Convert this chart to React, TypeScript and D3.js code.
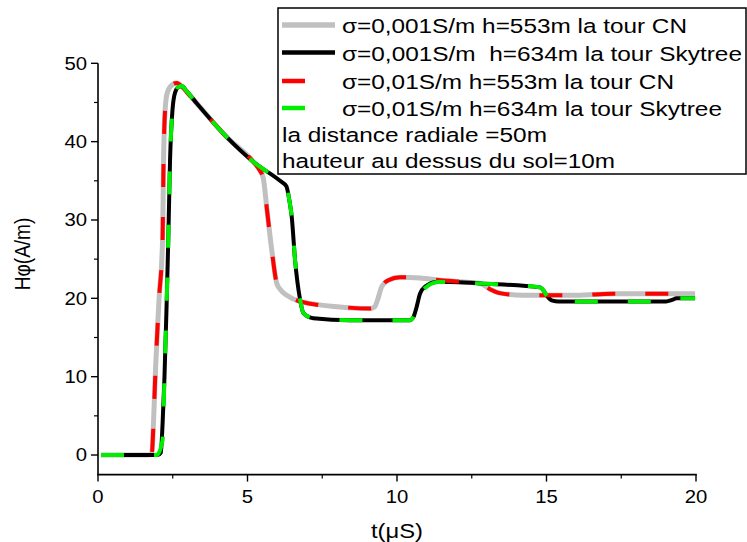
import React from 'react';
import * as d3 from 'd3';

const W = 747;
const H = 542;

// Axis ticks
const xMajorTicks = [0, 5, 10, 15, 20];
const xMinorTicks = [2.5, 7.5, 12.5, 17.5];
const yMajorTicks = [0, 10, 20, 30, 40, 50];
const yMinorTicks = [5, 15, 25, 35, 45];

// Series: [t (µs), Hφ (A/m)]
const grayCN: [number, number][] = [
  [0.1, 0], [1.7, 0], [1.8, 0.2], [1.86, 4.5], [1.91, 9.6], [2.04, 19.8], [2.16, 27.4],
  [2.19, 37], [2.23, 43], [2.3, 46], [2.41, 47.0], [2.63, 47.5], [2.84, 46.9], [3.0, 46.2],
  [3.3, 44.9], [4.3, 40.6], [5.2, 37.4], [5.4, 36.4], [5.53, 35.3], [5.64, 31.7], [5.81, 26.2],
  [5.98, 21.9], [6.15, 20.9], [6.31, 20.4], [6.76, 19.6], [8.09, 18.9], [9.1, 18.7], [9.25, 18.9],
  [9.35, 19.8], [9.49, 21.5], [9.71, 22.3], [10.1, 22.7], [10.77, 22.6], [11.44, 22.3],
  [12.78, 21.9], [13.1, 21.2], [13.4, 20.7], [14.22, 20.4], [16.0, 20.4], [17.2, 20.6], [19.97, 20.6],
];

const blackSkytree: [number, number][] = [
  [0.1, 0], [2.0, 0], [2.1, 0.3], [2.16, 4], [2.22, 9.6], [2.29, 18.5], [2.35, 27.4],
  [2.41, 37.7], [2.49, 44], [2.58, 46.3], [2.7, 47.0], [2.8, 47.1], [2.95, 46.5], [3.3, 44.9],
  [4.3, 40.6], [5.2, 37.4], [6.09, 35], [6.3, 34.3], [6.4, 32.5], [6.48, 30.4], [6.59, 24.9],
  [6.76, 19.8], [6.87, 18.1], [7.2, 17.45], [8.43, 17.2], [10.43, 17.2], [10.55, 17.6],
  [10.65, 18.8], [10.77, 20.6], [10.94, 21.5], [11.33, 22.1], [11.77, 22.1], [12.78, 21.9],
  [14.78, 21.4], [14.9, 21.0], [15.0, 20.4], [15.2, 19.7], [15.4, 19.6], [16.1, 19.6],
  [19.0, 19.6], [19.2, 19.8], [19.35, 20.0], [19.97, 20.0],
];

const redCN: [number, number][] = [
  [0.1, 0], [1.7, 0], [1.8, 0.2], [1.86, 4.5], [1.91, 9.6], [2.04, 19.8], [2.16, 27.4],
  [2.19, 37], [2.23, 43], [2.3, 46], [2.41, 47.0], [2.63, 47.5], [2.84, 46.9], [3.0, 46.2],
  [3.3, 44.9], [4.3, 40.6], [5.2, 37.4], [5.4, 36.4], [5.53, 35.3], [5.64, 31.7], [5.81, 26.2],
  [5.98, 21.9], [6.15, 20.9], [6.31, 20.4], [6.76, 19.6], [8.09, 18.9], [9.1, 18.7], [9.25, 18.9],
  [9.35, 19.8], [9.49, 21.5], [9.71, 22.3], [10.1, 22.7], [10.77, 22.6], [11.44, 22.3],
  [12.78, 21.9], [13.1, 21.2], [13.4, 20.7], [14.22, 20.4], [16.0, 20.4], [17.2, 20.6], [19.97, 20.6],
];

const greenSkytree: [number, number][] = [
  [0.1, 0], [1.97, 0], [2.16, 1.9], [2.22, 9.6], [2.29, 18.5], [2.35, 27.4],
  [2.41, 37.7], [2.49, 44], [2.58, 46.3], [2.7, 47.0], [2.8, 47.1], [2.95, 46.5], [3.3, 44.9],
  [4.3, 40.6], [5.2, 37.4], [6.09, 35], [6.3, 34.3], [6.4, 32.5], [6.48, 30.4], [6.59, 24.9],
  [6.76, 19.8], [6.87, 18.1], [7.2, 17.45], [8.43, 17.2], [10.43, 17.2], [10.55, 17.6],
  [10.65, 18.8], [10.77, 20.6], [11.38, 22.1], [11.77, 22.1], [12.78, 21.9],
  [14.78, 21.4], [14.9, 21.0], [15.0, 20.4], [15.2, 19.7], [15.4, 19.6], [16.1, 19.6],
  [19.0, 19.6], [19.2, 19.8], [19.35, 20.0], [19.97, 20.0],
];

const legendLabels = [
  'σ=0,001S/m h=553m la tour CN',
  'σ=0,001S/m  h=634m la tour Skytree',
  'σ=0,01S/m h=553m la tour CN',
  'σ=0,01S/m h=634m la tour Skytree',
];
const noteLabels = ['la distance radiale =50m', 'hauteur au dessus du sol=10m'];

const FONT = '"Liberation Sans", Arial, sans-serif';
const SX = 1.16;

const x = d3.scaleLinear().domain([0, 20]).range([98, 696]);
const y = d3.scaleLinear().domain([-2.5, 50]).range([474.6, 63.3]);

const line = d3
  .line<[number, number]>()
  .x((d) => x(d[0]))
  .y((d) => y(d[1]))
  .curve(d3.curveMonotoneX);

const series = [
  { data: grayCN, color: '#c0c0c0', width: 5, dash: undefined as string | undefined, sample: 53 },
  { data: blackSkytree, color: '#000000', width: 4, dash: undefined as string | undefined, sample: 53 },
  { data: redCN, color: '#ff0000', width: 4, dash: '23 30', sample: 23 },
  { data: greenSkytree, color: '#00ee00', width: 4, dash: '23 30', sample: 23 },
];

const legendLens = [345, 400, 332, 380];
const noteLens = [265, 333];

export default function App() {
  const x0 = x.range()[0];
  const yBottom = y(-2.5);
  const yTop = y(50);
  return (
    <svg
      width={W}
      height={H}
      style={{ position: 'absolute', left: 0, top: 0, background: '#fff' }}
      fontFamily={FONT}
    >
      <rect x={0} y={0} width={W} height={H} fill="#fff" />
      {/* curves */}
      {series.map((s, i) => (
        <path
          key={i}
          d={line(s.data) || ''}
          fill="none"
          stroke={s.color}
          strokeWidth={s.width}
          strokeDasharray={s.dash}
          strokeLinejoin="round"
        />
      ))}

      {/* axes */}
      <line x1={x0} x2={x0} y1={yTop} y2={yBottom} stroke="#000" strokeWidth={1.6} />
      <line x1={x0 - 0.8} x2={x(20) + 0.8} y1={yBottom} y2={yBottom} stroke="#000" strokeWidth={1.6} />
      {yMajorTicks.map((t) => (
        <g key={'ym' + t}>
          <line x1={x0 - 7} x2={x0} y1={y(t)} y2={y(t)} stroke="#000" strokeWidth={1.4} />
          <text
            transform={`translate(${x0 - 11},${y(t) + 6.3}) scale(${SX},1)`}
            textAnchor="end"
            fontSize={17.5}
            fill="#000"
          >
            {t}
          </text>
        </g>
      ))}
      {yMinorTicks.map((t) => (
        <line key={'yn' + t} x1={x0 - 4} x2={x0} y1={y(t)} y2={y(t)} stroke="#000" strokeWidth={1.2} />
      ))}
      {xMajorTicks.map((t) => (
        <g key={'xm' + t}>
          <line x1={x(t)} x2={x(t)} y1={yBottom} y2={yBottom + 7} stroke="#000" strokeWidth={1.4} />
          <text
            transform={`translate(${x(t)},503) scale(${SX},1)`}
            textAnchor="middle"
            fontSize={17.5}
            fill="#000"
          >
            {t}
          </text>
        </g>
      ))}
      {xMinorTicks.map((t) => (
        <line key={'xn' + t} x1={x(t)} x2={x(t)} y1={yBottom} y2={yBottom + 4} stroke="#000" strokeWidth={1.2} />
      ))}

      {/* axis titles */}
      <text
        transform={`translate(${(x(0) + x(20)) / 2},538) scale(${SX},1)`}
        textAnchor="middle"
        fontSize={20.5}
        fill="#000"
      >
        t(μS)
      </text>
      <text
        transform={`translate(30,254) scale(${SX},1) rotate(-90)`}
        textAnchor="middle"
        fontSize={19}
        fill="#000"
      >
        Hφ(A/m)
      </text>

      {/* legend */}
      <rect x={278} y={8} width={468} height={166} fill="#fff" stroke="#000" strokeWidth={1.5} />
      {series.map((s, i) => {
        const ly = [25, 52.5, 81, 108][i];
        return (
          <line
            key={'ls' + i}
            x1={282}
            x2={282 + s.sample}
            y1={ly}
            y2={ly}
            stroke={s.color}
            strokeWidth={s.width + 0.5}
          />
        );
      })}
      {legendLabels.map((lbl, i) => (
        <text
          key={'lt' + i}
          x={342}
          y={[33, 61, 89, 116][i]}
          fontSize={20.5}
          textLength={legendLens[i]}
          lengthAdjust="spacingAndGlyphs"
          style={{ whiteSpace: 'pre' }}
          fill="#000"
        >
          {lbl}
        </text>
      ))}
      {noteLabels.map((lbl, i) => (
        <text
          key={'nt' + i}
          x={282}
          y={[142, 168][i]}
          fontSize={20.5}
          textLength={noteLens[i]}
          lengthAdjust="spacingAndGlyphs"
          fill="#000"
        >
          {lbl}
        </text>
      ))}
    </svg>
  );
}
